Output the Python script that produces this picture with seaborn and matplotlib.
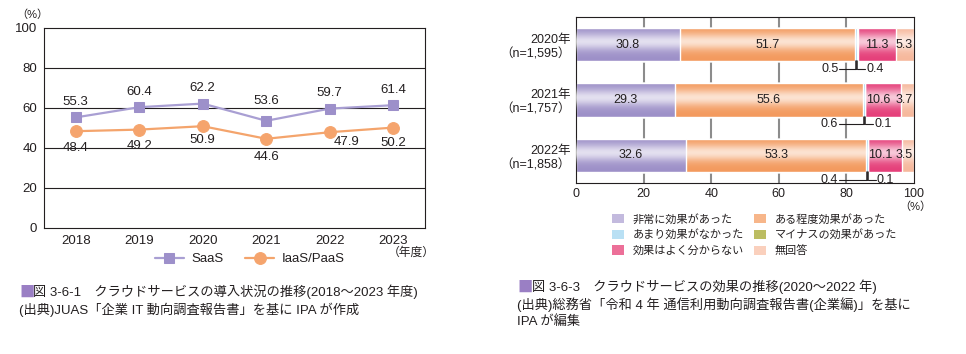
import numpy as np
import pandas as pd
import matplotlib.pyplot as plt
import seaborn as sns
from matplotlib.patches import Patch

sns.set_style('white')
plt.rcParams['font.family'] = ['Liberation Sans', 'Noto Sans CJK JP']
plt.rcParams['text.color'] = '#231f20'
plt.rcParams['axes.edgecolor'] = '#231f20'
plt.rcParams['xtick.color'] = '#231f20'
plt.rcParams['ytick.color'] = '#231f20'

# --- data: left chart (cloud adoption) ---
years = [2018, 2019, 2020, 2021, 2022, 2023]
saas = [55.3, 60.4, 62.2, 53.6, 59.7, 61.4]
iaas_paas = [48.4, 49.2, 50.9, 44.6, 47.9, 50.2]

# --- data: right chart (cloud effects) ---
survey_rows = ['2020年\n（n=1,595）', '2021年\n（n=1,757）', '2022年\n（n=1,858）']
effect_cats = ['非常に効果があった', 'ある程度効果があった', 'あまり効果がなかった',
               'マイナスの効果があった', '効果はよく分からない', '無回答']
effect_2020 = [30.8, 51.7, 0.5, 0.4, 11.3, 5.3]
effect_2021 = [29.3, 55.6, 0.6, 0.1, 10.6, 3.7]
effect_2022 = [32.6, 53.3, 0.4, 0.1, 10.1, 3.5]

effect_colors = ['#9d90c8', '#f39a5e', '#8ecdec', '#a3a636', '#e5407a', '#f6b89c']
legend_colors = ['#c3bade', '#f7b68a', '#b9e0f4', '#bcbd62', '#ec6f98', '#fad0bd']

W, H = 966, 354
fig = plt.figure(figsize=(9.66, 3.54), dpi=100)

def fx(px):
    return px / W

def fy(py):
    return 1 - py / H

cjk = ['Noto Sans CJK JP', 'DejaVu Sans']

# ================= left chart =================
ax1 = fig.add_axes([fx(44), fy(228), fx(425 - 44), (228 - 28) / H])
sns.lineplot(x=years, y=saas, ax=ax1, color='#a99fd3', lw=1.6, marker='s', markersize=7.5,
             markerfacecolor='#9d90ca', markeredgecolor='#9d90ca', label='SaaS')
sns.lineplot(x=years, y=iaas_paas, ax=ax1, color='#f4a46c', lw=1.6, marker='o', markersize=8.5,
             markerfacecolor='#f5a46d', markeredgecolor='#f5a46d', label='IaaS/PaaS')
ax1.set_xlim(2017.5, 2023.5)
ax1.set_ylim(0, 100)
ax1.set_yticks([0, 20, 40, 60, 80, 100])
ax1.set_xticks(years)
ax1.set_xticks([y + 0.5 for y in years[:-1]], minor=True)
ax1.tick_params(axis='both', which='major', length=0, labelsize=9.5, pad=5)
ax1.tick_params(axis='x', which='minor', direction='in', length=4.5, width=0.8)
for y in [20, 40, 60, 80]:
    ax1.axhline(y, color='#231f20', lw=0.8, zorder=0)
for s in ax1.spines.values():
    s.set_linewidth(0.8)
ax1.set_xlabel('')
ax1.set_ylabel('')

saas_off = [(0, 11), (0, 11), (0, 11), (0, 14), (0, 11), (0, 11)]
iaas_off = [(0, -12), (0, -12), (0, -10), (0, -13), (12, -7), (0, -11)]
for x, v, o in zip(years, saas, saas_off):
    ax1.annotate(f'{v:.1f}', (x, v), xytext=o, textcoords='offset points',
                 ha='center', va='center', fontsize=9.5)
for x, v, o in zip(years, iaas_paas, iaas_off):
    ax1.annotate(f'{v:.1f}', (x, v), xytext=o, textcoords='offset points',
                 ha='center', va='center', fontsize=9.5)

h1, l1 = ax1.get_legend_handles_labels()
ax1.get_legend().remove()
fig.legend(h1, l1, loc='center', bbox_to_anchor=(fx(250), fy(259)), ncol=2, frameon=False,
           fontsize=9.5, handlelength=2.2, columnspacing=1.6, handletextpad=0.6)

fig.text(fx(32), fy(15), '（%）', ha='center', va='center', fontsize=8)
fig.text(fx(411), fy(253), '（年度）', ha='center', va='center', fontsize=8.5)

fig.text(fx(19), fy(292), '■', color='#9a7fc4', ha='left', va='center', fontsize=11, family=cjk)
fig.text(fx(33), fy(292), '図 3-6-1　クラウドサービスの導入状況の推移(2018～2023 年度)',
         ha='left', va='center', fontsize=9.5)
fig.text(fx(19), fy(310), '(出典)JUAS「企業 IT 動向調査報告書」を基に IPA が作成',
         ha='left', va='center', fontsize=9.5)

# ================= right chart =================
ax2 = fig.add_axes([fx(576), fy(183), fx(914 - 576), (183 - 17) / H])
df = pd.DataFrame([effect_2020, effect_2021, effect_2022], columns=effect_cats, index=survey_rows)
cum = df.cumsum(axis=1)
for k in reversed(range(len(effect_cats))):
    sns.barplot(x=cum.iloc[:, k].values, y=survey_rows, orient='h', color=effect_colors[k],
                saturation=1, width=0.6, errorbar=None, ax=ax2, zorder=2)

# soft highlight across the upper middle of each bar
prof = np.exp(-((np.linspace(-1, 1, 64) + 0.15) / 0.5) ** 2)
grad = np.ones((64, 2, 4))
grad[..., 3] = (0.72 * prof)[:, None]
for i in range(len(survey_rows)):
    ax2.imshow(grad, extent=(0, df.iloc[i].sum(), i + 0.3, i - 0.3), aspect='auto',
               zorder=3, interpolation='bilinear')

ax2.set_xlim(0, 100)
ax2.set_ylim(2.5, -0.5)
ax2.set_xticks([0, 20, 40, 60, 80, 100])
ax2.set_yticks(range(len(survey_rows)))
ax2.set_yticklabels(survey_rows, ha='right', linespacing=1.25)
ax2.set_yticks([0.5, 1.5], minor=True)
ax2.tick_params(axis='both', which='major', length=0, labelsize=9)
ax2.tick_params(axis='y', which='major', pad=4)
ax2.tick_params(axis='y', which='minor', direction='in', length=4, width=0.8)
for x in [20, 40, 60, 80]:
    ax2.axvline(x, color='#8c8c8c', lw=1.5, zorder=1)
for s in ax2.spines.values():
    s.set_linewidth(0.8)
ax2.set_xlabel('')
ax2.set_ylabel('')

for i in range(len(survey_rows)):
    vals = df.iloc[i].values
    starts = cum.iloc[i].values - vals
    for k in [0, 1, 4, 5]:
        cx = min(starts[k] + vals[k] / 2, 97.2)
        if k == 4 and vals[5] < 5:
            cx -= 1.4
        ax2.text(cx, i, f'{vals[k]:.1f}', ha='center', va='center', fontsize=9, zorder=5)
    # leader lines for the two tiny segments
    c2 = starts[2] + vals[2] / 2
    c3 = starts[3] + vals[3] / 2
    ly = i + 0.44
    ax2.plot([c2, c2], [i + 0.3, ly], color='#231f20', lw=1.1, zorder=5, clip_on=False)
    ax2.plot([c3, c3], [i + 0.3, ly], color='#231f20', lw=1.1, zorder=5, clip_on=False)
    ax2.plot([77.9, c2], [ly, ly], color='#231f20', lw=0.8, zorder=5)
    ax2.plot([c3, c3 + 2.4], [ly, ly], color='#231f20', lw=0.8, zorder=5)
    ax2.text(77.6, ly, f'{vals[2]:.1f}', ha='right', va='center', fontsize=9, zorder=5)
    ax2.text(c3 + 2.7, ly, f'{vals[3]:.1f}', ha='left', va='center', fontsize=9, zorder=5)

fig.text(fx(915), fy(207), '（%）', ha='center', va='center', fontsize=8)

order = [0, 2, 4, 1, 3, 5]
h2 = [Patch(facecolor=legend_colors[k], edgecolor='none') for k in order]
l2 = [effect_cats[k] for k in order]
fig.legend(h2, l2, loc='upper left', bbox_to_anchor=(fx(606), fy(208)), ncol=2, frameon=False,
           fontsize=8, handlelength=1.1, handleheight=0.9, handletextpad=0.8,
           columnspacing=0.9, labelspacing=0.45, borderpad=0)

fig.text(fx(517), fy(287), '■', color='#9a7fc4', ha='left', va='center', fontsize=11, family=cjk)
fig.text(fx(532), fy(287), '図 3-6-3　クラウドサービスの効果の推移(2020～2022 年)',
         ha='left', va='center', fontsize=9.5)
fig.text(fx(517), fy(305), '(出典)総務省「令和 4 年 通信利用動向調査報告書(企業編)」を基に',
         ha='left', va='center', fontsize=9.5)
fig.text(fx(517), fy(322), 'IPA が編集', ha='left', va='center', fontsize=9.5)

fig.savefig('out.png', dpi=100)
